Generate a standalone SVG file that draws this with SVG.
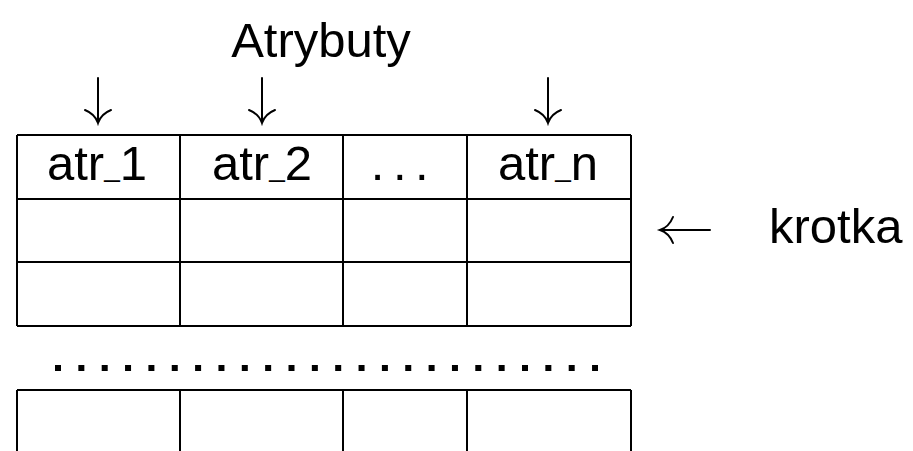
<svg xmlns="http://www.w3.org/2000/svg" width="913" height="451" viewBox="0 0 913 451">
<style>
.t{font-family:"Liberation Sans",Arial,Helvetica,sans-serif;font-size:49px;fill:#000}
.c{text-anchor:middle}
.g{stroke:#000;stroke-width:2;fill:none}
.a{stroke:#000;stroke-width:2;fill:none;stroke-linecap:round}
</style>
<rect width="913" height="451" fill="#fff"/>
<g id="title"><text class="t c" x="321" y="57">Atrybuty</text></g>
<g id="table">
<path class="g" d="M17,135H631M17,199H631M17,262H631M17,326H631M17,135V326M180,135V326M343,135V326M467,135V326M631,135V326"/>
<path class="g" d="M17,390H631M17,390V451M180,390V451M343,390V451M467,390V451M631,390V451"/>
</g>
<g id="h1"><text class="t c" x="97" y="180">atr<tspan font-size="28" dy="-4">_</tspan><tspan dy="4">1</tspan></text></g>
<g id="h2"><text class="t c" x="262" y="180">atr<tspan font-size="28" dy="-4">_</tspan><tspan dy="4">2</tspan></text></g>
<g id="h3"><text class="t c" x="404" y="180" letter-spacing="8.5">...</text></g>
<g id="hn"><text class="t c" x="548" y="180">atr<tspan font-size="28" dy="-4">_</tspan><tspan dy="4">n</tspan></text></g>
<g id="dots"><line x1="55" y1="368" x2="598" y2="368" stroke="#000" stroke-width="6" stroke-dasharray="6 17.35"/></g>
<g id="krotka"><text class="t" x="769" y="243">krotka</text></g>
<g id="connectors">
<path class="a" d="M98,78V123M85,110Q95,114 98,123Q101,114 111,110"/>
<path class="a" d="M262,78V123M249,110Q259,114 262,123Q265,114 275,110"/>
<path class="a" d="M548,78V123M535,110Q545,114 548,123Q551,114 561,110"/>
<path class="a" d="M660,230H710M673,217Q669,227 660,230Q669,233 673,243"/>
</g>
</svg>
